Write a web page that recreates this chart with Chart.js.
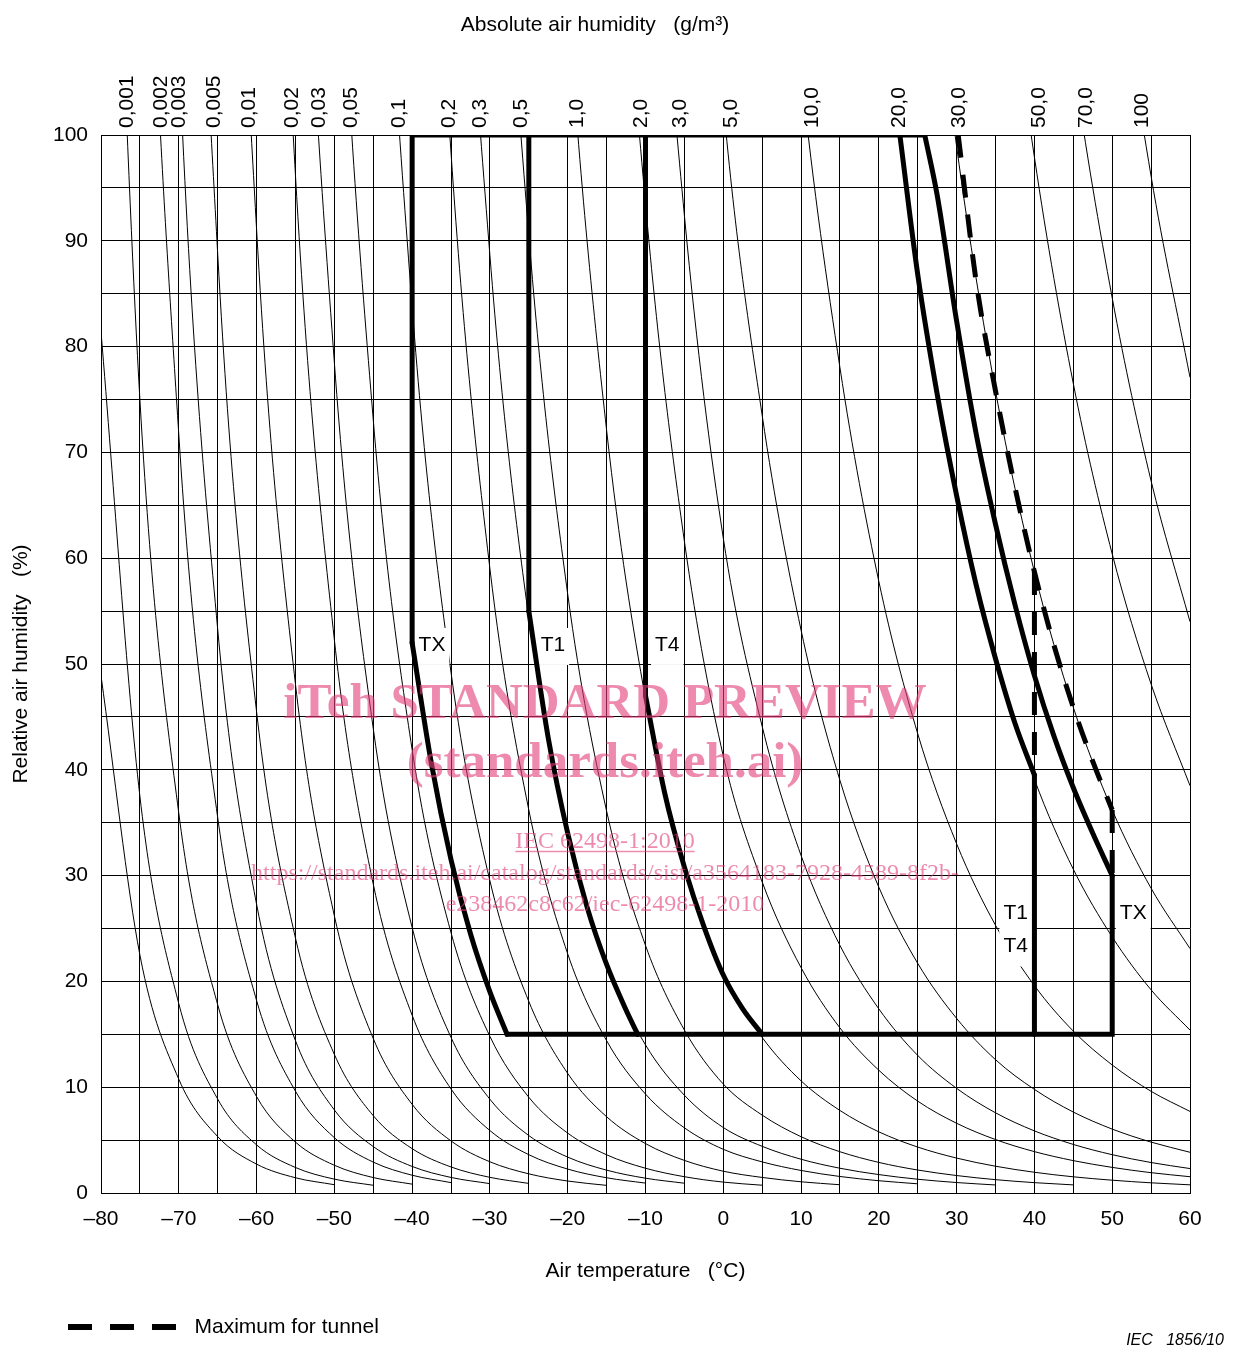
<!DOCTYPE html>
<html>
<head>
<meta charset="utf-8">
<title>Climatic classes TX, T1, T4</title>
<script src="https://cdn.jsdelivr.net/npm/chart.js@4.4.1/dist/chart.umd.min.js"></script>
<style>
  html, body { margin: 0; padding: 0; background: #fff; }
</style>
</head>
<body>
<canvas id="climateChart" width="1234" height="1349"></canvas>
<script>
const FONT = "'Liberation Sans', Arial, sans-serif";
const SERIF = "'Liberation Serif', 'Times New Roman', serif";

// ── DATA ──────────────────────────────────────────────────────────────────────

// air temperature steps (°C) used by the humidity curves
const temperatures = [-80, -75, -70, -65, -60, -55, -50, -45, -40, -35, -30, -25, -20, -15,
  -10, -5, 0, 5, 10, 15, 20, 25, 30, 35, 40, 45, 50, 55, 60];

// constant absolute humidity curves (g/m3), relative humidity read every 5 °C
const curveAH = [0.0003, 0.0005, 0.001, 0.002, 0.003, 0.005, 0.01, 0.02, 0.03, 0.05,
  0.1, 0.2, 0.3, 0.5, 1, 2, 3, 5, 10, 20, 30, 50, 70, 100];
const curveStart = [-80, -80, -80, -80, -75, -75, -70, -65, -60, -55,
  -50, -45, -40, -35, -25, -20, -15, -10, 5, 15, 20, 30, 35, 45];

const rh_00003 = [48.9, 22.5, 10.76, 5.33, 2.73, 1.44, 0.785];
const rh_00005 = [81.4, 37.5, 17.9, 8.88, 4.55, 2.41, 1.31, 0.731];
const rh_0001 = [163, 75.0, 35.9, 17.8, 9.11, 4.81, 2.62, 1.46, 0.838];
const rh_0002 = [326, 150, 71.7, 35.5, 18.2, 9.62, 5.23, 2.92, 1.68, 0.983];
const rh_0003 = [225, 108, 53.3, 27.3, 14.4, 7.85, 4.39, 2.51, 1.47, 0.886];
const rh_0005 = [375, 179, 88.8, 45.5, 24.1, 13.1, 7.31, 4.19, 2.46, 1.48, 0.905];
const rh_001 = [359, 178, 91.1, 48.1, 26.2, 14.6, 8.38, 4.92, 2.95, 1.81, 1.13, 0.721];
const rh_002 = [355, 182, 96.2, 52.3, 29.2, 16.8, 9.83, 5.90, 3.62, 2.26, 1.44, 0.935];
const rh_003 = [273, 144, 78.5, 43.9, 25.1, 14.7, 8.86, 5.43, 3.39, 2.16, 1.40, 0.924];
const rh_005 = [241, 131, 73.1, 41.9, 24.6, 14.8, 9.05, 5.66, 3.61, 2.34, 1.54, 1.03, 0.736];
const rh_01 = [262, 146, 83.8, 49.2, 29.5, 18.1, 11.3, 7.21, 4.67, 3.08, 2.06, 1.47, 1.06, 0.780];
const rh_02 = [292, 168, 98.3, 59.0, 36.2, 22.6, 14.4, 9.35, 6.16, 4.13, 2.94, 2.13, 1.56, 1.16, 0.868];
const rh_03 = [251, 147, 88.6, 54.3, 33.9, 21.6, 14.0, 9.24, 6.19, 4.41, 3.19, 2.34, 1.74, 1.30, 0.989, 0.758];
const rh_05 = [246, 148, 90.5, 56.6, 36.1, 23.4, 15.4, 10.3, 7.36, 5.32, 3.90, 2.89, 2.17, 1.65, 1.26, 0.979, 0.766];
const rh_1 = [181, 113, 72.1, 46.7, 30.8, 20.6, 14.7, 10.6, 7.80, 5.78, 4.34, 3.30, 2.53, 1.96, 1.53, 1.21, 0.961, 0.771];
const rh_2 = [226, 144, 93.5, 61.6, 41.3, 29.4, 21.3, 15.6, 11.6, 8.68, 6.59, 5.05, 3.91, 3.06, 2.42, 1.92, 1.54];
const rh_3 = [216, 140, 92.4, 61.9, 44.1, 31.9, 23.4, 17.4, 13.0, 9.89, 7.58, 5.87, 4.59, 3.62, 2.88, 2.31];
const rh_5 = [234, 154, 103, 73.5, 53.2, 39.0, 28.9, 21.7, 16.5, 12.6, 9.79, 7.65, 6.04, 4.81, 3.85];
const rh_10 = [147, 106, 78.0, 57.8, 43.4, 33.0, 25.3, 19.6, 15.3, 12.1, 9.61, 7.71];
const rh_20 = [156, 116, 86.8, 65.9, 50.5, 39.1, 30.6, 24.2, 19.2, 15.4];
const rh_30 = [174, 130, 98.9, 75.8, 58.7, 45.9, 36.2, 28.8, 23.1];
const rh_50 = [165, 126, 97.9, 76.5, 60.4, 48.1, 38.5];
const rh_70 = [177, 137, 107, 84.6, 67.3, 54.0];
const rh_100 = [153, 121, 96.1, 77.1];

const curveRH = [rh_00003, rh_00005, rh_0001, rh_0002, rh_0003, rh_0005, rh_001, rh_002,
  rh_003, rh_005, rh_01, rh_02, rh_03, rh_05, rh_1, rh_2, rh_3, rh_5, rh_10, rh_20,
  rh_30, rh_50, rh_70, rh_100];

// top scale: absolute humidity labels where each curve meets 100 %
const topLabels = ['0,001', '0,002', '0,003', '0,005', '0,01', '0,02', '0,03', '0,05', '0,1',
  '0,2', '0,3', '0,5', '1,0', '2,0', '3,0', '5,0', '10,0', '20,0', '30,0', '50,0', '70,0', '100'];
const topTickTemps = [-76.7, -72.4, -70.0, -65.6, -61.1, -55.5, -52.1, -48.0, -41.8,
  -35.3, -31.3, -26.1, -18.9, -10.6, -5.6, 0.9, 11.3, 22.5, 30.2, 40.5, 46.6, 53.8];

// climatic class boundaries [°C, %RH]
const txFrameUpper = [[-40, 52], [-40, 100], [25.9, 100]];
const txFrameLower = [[-27.8, 15], [50, 15], [50, 30]];
const txColdEdge = [[-40, 52], [-37.5, 40.5], [-35, 31.5], [-32.5, 24.5], [-30, 19], [-27.8, 15]];
const txHotEdge = [[25.9, 100], [27.5, 94.3], [30, 82.4], [32.5, 71.8], [35, 63.2], [37.5, 55.6],
  [40, 48.9], [42.5, 43.2], [45, 38.3], [47.5, 34], [50, 30]];

const t1FrameUpper = [[-25, 55], [-25, 100]];
const t1ColdEdge = [[-25, 55], [-22.5, 43], [-20, 34], [-17.5, 27], [-15, 21.6], [-12.5, 17.3], [-11, 15]];

const t4FrameUpper = [[-10, 47], [-10, 100]];
const t4ColdEdge = [[-10, 47], [-7.5, 37.7], [-5, 30.8], [-2.5, 25.2], [0, 20.6], [2.5, 17.4], [5, 15]];

const t14HotEdge = [[22.7, 100], [25, 86.8], [27.5, 75.5], [30, 65.9], [32.5, 57.5], [35, 50.5],
  [37.5, 44.4], [40, 39.5]];
const t14FrameRight = [[40, 15], [40, 39.5]];

const tunnelMax = [[30.2, 100], [32.5, 86.2], [35, 75.8], [37.5, 66.7], [40, 58.7], [42.5, 51.8],
  [45, 45.9], [47.5, 40.8], [50, 36.2]];
const tunnelStep40 = [[40, 58.7], [40, 40]];
const tunnelStep50 = [[50, 36.2], [50, 30]];

// class labels inside the plot [text, °C, %RH]
const classLabels = [
  ['TX', -37.45, 51.8], ['T1', -21.9, 51.8], ['T4', -7.2, 51.8],
  ['T1', 37.6, 26.4], ['T4', 37.6, 23.3], ['TX', 52.7, 26.4]
];

// ── CHART ─────────────────────────────────────────────────────────────────────

Chart.defaults.font.family = FONT;
Chart.defaults.font.size = 21;
Chart.defaults.color = "#000";

function toPoints(pairs) {
  return pairs.map(([x, y]) => ({ x, y }));
}

function boundary(label, pairs, extra) {
  return Object.assign({
    label,
    data: toPoints(pairs),
    borderColor: "#000",
    borderWidth: 5,
    pointRadius: 0,
    tension: 0,
    borderJoinStyle: "miter",
    borderCapStyle: "round",
    order: 0,
    thick: true
  }, extra || {});
}

const curved = { cubicInterpolationMode: "monotone" };
const dashed = { borderDash: [23, 17], borderCapStyle: "butt" };

const thickSets = [
  boundary("Maximum for tunnel", tunnelMax, { ...curved, ...dashed }),
  boundary("Maximum for tunnel", tunnelStep40, dashed),
  boundary("Maximum for tunnel", tunnelStep50, dashed),
  boundary("TX", txFrameUpper),
  boundary("TX", txFrameLower),
  boundary("TX", txColdEdge, curved),
  boundary("TX", txHotEdge, curved),
  boundary("T1", t1FrameUpper),
  boundary("T1", t1ColdEdge, curved),
  boundary("T4", t4FrameUpper),
  boundary("T4", t4ColdEdge, curved),
  boundary("T1/T4", t14HotEdge, curved),
  boundary("T1/T4", t14FrameRight)
];

const thinSets = curveAH.map((ah, i) => {
  const k0 = temperatures.indexOf(curveStart[i]);
  return {
    label: ah + " g/m³",
    data: curveRH[i].map((rh, k) => ({ x: temperatures[k0 + k], y: rh })),
    borderColor: "#000",
    borderWidth: 1,
    pointRadius: 0,
    cubicInterpolationMode: "monotone",
    order: 1
  };
});

function tempLabel(v) {
  if (v % 10 !== 0) return "";
  return v < 0 ? "\u2013" + Math.abs(v) : String(v);
}

// white boxes under the class labels go between thin curves and thick lines
const classLabelPlugin = {
  id: "classLabels",
  beforeDatasetsDraw(chart) {
    chart.$boxesDone = false;
  },
  beforeDatasetDraw(chart, args) {
    if (chart.$boxesDone || !chart.data.datasets[args.index].thick) return;
    chart.$boxesDone = true;
    const { ctx, scales: { x, y } } = chart;
    ctx.save();
    ctx.font = `21px ${FONT}`;
    ctx.fillStyle = "#fff";
    classLabels.forEach(([text, t, rh]) => {
      const px = x.getPixelForValue(t);
      const py = y.getPixelForValue(rh);
      const w = ctx.measureText(text).width;
      ctx.fillRect(px - w / 2 - 4, py - 17, w + 8, 37);
    });
    ctx.restore();
  },
  afterDatasetsDraw(chart) {
    const { ctx, scales: { x, y } } = chart;
    ctx.save();
    ctx.font = `21px ${FONT}`;
    ctx.fillStyle = "#000";
    ctx.textAlign = "center";
    ctx.textBaseline = "middle";
    classLabels.forEach(([text, t, rh]) => {
      ctx.fillText(text, x.getPixelForValue(t), y.getPixelForValue(rh));
    });
    ctx.restore();
  }
};

const watermarkPlugin = {
  id: "watermark",
  beforeDraw(chart) {
    if (chart.legend) chart.legend.left = 58;
  },
  afterDraw(chart) {
    const { ctx } = chart;
    const cx = 605;
    ctx.save();
    ctx.fillStyle = "rgba(225, 60, 120, 0.6)";
    ctx.strokeStyle = "rgba(225, 60, 120, 0.6)";
    ctx.textAlign = "center";
    ctx.textBaseline = "alphabetic";
    ctx.font = `bold 51px ${SERIF}`;
    ctx.fillText("iTeh STANDARD PREVIEW", cx, 718);
    ctx.fillText("(standards.iteh.ai)", cx, 777);
    ctx.font = `24px ${SERIF}`;
    ctx.fillText("IEC 62498-1:2010", cx, 848);
    const w = ctx.measureText("IEC 62498-1:2010").width;
    ctx.lineWidth = 1.5;
    ctx.beginPath();
    ctx.moveTo(cx - w / 2, 851.5);
    ctx.lineTo(cx + w / 2, 851.5);
    ctx.stroke();
    ctx.fillText("https://standards.iteh.ai/catalog/standards/sist/a3564183-7928-4589-8f2b-", cx, 880);
    ctx.fillText("e238462c8c62/iec-62498-1-2010", cx, 911);

    ctx.fillStyle = "#000";
    ctx.textAlign = "right";
    ctx.font = `italic 16px ${FONT}`;
    ctx.fillText("IEC   1856/10", 1224, 1345);
    ctx.restore();
  }
};

new Chart(document.getElementById("climateChart"), {
  type: "line",
  data: { datasets: [...thickSets, ...thinSets] },
  plugins: [classLabelPlugin, watermarkPlugin],
  options: {
    responsive: false,
    animation: false,
    events: [],
    layout: { padding: { top: 0, left: 0, right: 44, bottom: 1.5 } },
    plugins: {
      title: {
        display: true,
        text: "Absolute air humidity   (g/m³)",
        font: { size: 21, weight: "normal" },
        color: "#000",
        padding: { top: 13, bottom: 10 }
      },
      legend: {
        position: "bottom",
        align: "start",
        labels: {
          usePointStyle: true,
          pointStyle: "line",
          pointStyleWidth: 116,
          padding: 10,
          font: { size: 21 },
          color: "#000",
          generateLabels: () => [{
            text: "Maximum for tunnel",
            fillStyle: "#000",
            strokeStyle: "#000",
            lineWidth: 6,
            lineDash: [24, 18],
            pointStyle: "line",
            hidden: false,
            datasetIndex: 0
          }]
        }
      },
      tooltip: { enabled: false }
    },
    scales: {
      x: {
        type: "linear",
        position: "bottom",
        min: -80,
        max: 60,
        afterFit: scale => { scale.height = 113.5; },
        ticks: { stepSize: 5, padding: 14, autoSkip: false, maxRotation: 0, callback: tempLabel },
        grid: { color: "#000", lineWidth: 1, drawTicks: false },
        border: { color: "#000", width: 1 },
        title: {
          display: true,
          text: "Air temperature   (°C)",
          font: { size: 21 },
          padding: { top: 0, bottom: 23 }
        }
      },
      x2: {
        type: "linear",
        position: "top",
        min: -80,
        max: 60,
        afterFit: scale => { scale.height = 86.8; },
        afterBuildTicks: axis => { axis.ticks = topTickTemps.map(value => ({ value })); },
        ticks: {
          autoSkip: false,
          minRotation: 90,
          maxRotation: 90,
          padding: -1,
          labelOffset: 26,
          callback: (value, index) => topLabels[index]
        },
        grid: { display: false },
        border: { display: false }
      },
      y: {
        type: "linear",
        min: 0,
        max: 100,
        afterFit: scale => { scale.width = 101; },
        ticks: { stepSize: 5, padding: 13, callback: v => (v % 10 === 0 ? String(v) : "") },
        grid: { color: "#000", lineWidth: 1, drawTicks: false },
        border: { color: "#000", width: 1 },
        title: {
          display: true,
          text: "Relative air humidity   (%)",
          font: { size: 21 },
          padding: { top: 9, bottom: 0 }
        }
      }
    }
  }
});
</script>
</body>
</html>
